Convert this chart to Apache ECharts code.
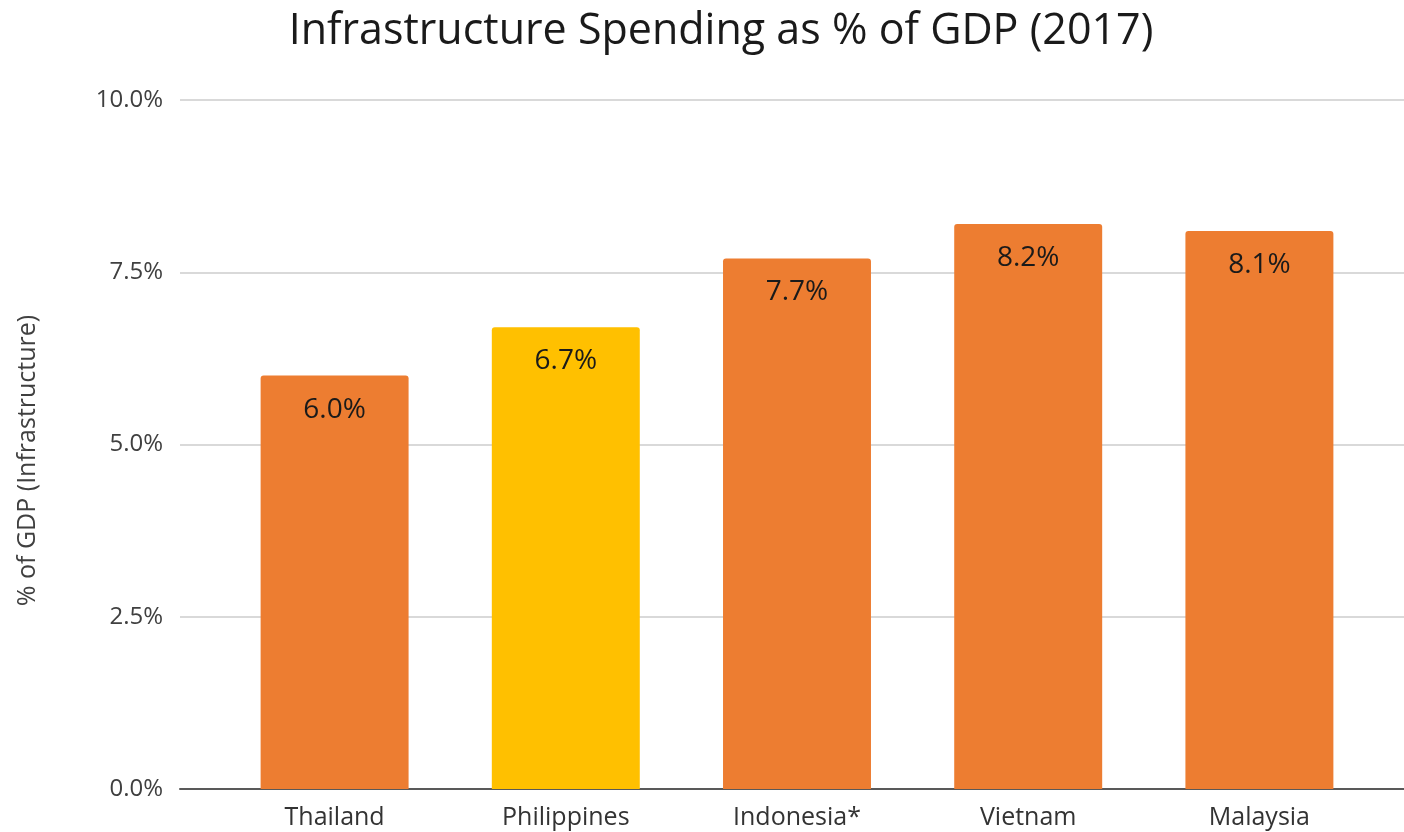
<!DOCTYPE html>
<html>
<head>
<meta charset="utf-8">
<script src="https://cdn.jsdelivr.net/npm/echarts@6/dist/echarts.min.js"></script>
<style>
  html, body { margin: 0; padding: 0; background: #ffffff; }
  #chart { width: 1404px; height: 832px; }
</style>
</head>
<body>
<div id="chart"></div>
<script>
// Infrastructure spending by country, share of GDP in 2017
const countries = ['Thailand', 'Philippines', 'Indonesia*', 'Vietnam', 'Malaysia'];
const spendingPct = [6.0, 6.7, 7.7, 8.2, 8.1];
const highlightCountry = 'Philippines';
const yTicks = [0, 2.5, 5, 7.5, 10];

const ORANGE = '#ED7D31';
const GOLD = '#FFC000';
const FONT = '"Open Sans", "Noto Sans", sans-serif';

const chart = echarts.init(document.getElementById('chart'), null, { renderer: 'canvas' });

const yMin = yTicks[0];
const yMax = yTicks[yTicks.length - 1];
const yStep = yTicks[1] - yTicks[0];

chart.setOption({
  animation: false,
  backgroundColor: '#ffffff',
  title: {
    text: 'Infrastructure Spending as % of GDP (2017)',
    left: 716,
    textAlign: 'center',
    top: 5,
    textStyle: { fontFamily: FONT, fontSize: 43, fontWeight: 'normal', color: '#1a1a1a' }
  },
  grid: [
    // background frame: gridlines, value labels and baseline
    { left: 180, right: 0, top: 100, bottom: 43 },
    // bars sit in a slightly inset category band
    { left: 219, right: 29, top: 100, bottom: 43 }
  ],
  xAxis: [
    {
      gridIndex: 0, type: 'category', data: countries,
      axisLine: { show: true, lineStyle: { color: '#595959', width: 2 } },
      axisTick: { show: false }, axisLabel: { show: false }, splitLine: { show: false }
    },
    {
      gridIndex: 1, type: 'category', data: countries,
      axisLine: { show: false }, axisTick: { show: false },
      axisLabel: { fontFamily: FONT, fontSize: 25, color: '#333333', margin: 16 }
    }
  ],
  yAxis: [
    {
      gridIndex: 0, type: 'value', min: yMin, max: yMax, interval: yStep,
      name: '% of GDP (Infrastructure)',
      nameLocation: 'middle', nameGap: 140, nameRotate: 90,
      nameTextStyle: { fontFamily: FONT, fontSize: 25, color: '#404040', padding: [0, 0, 0, -32] },
      axisLine: { show: false }, axisTick: { show: false },
      axisLabel: {
        fontFamily: FONT, fontSize: 24, color: '#404040', margin: 17,
        formatter: v => v.toFixed(1) + '%'
      },
      splitLine: { show: true, lineStyle: { color: '#d9d9d9', width: 2 } }
    },
    {
      gridIndex: 1, type: 'value', min: yMin, max: yMax, interval: yStep,
      show: false, splitLine: { show: false }
    }
  ],
  series: [
    {
      type: 'bar',
      xAxisIndex: 1, yAxisIndex: 1,
      barWidth: '64%',
      data: countries.map((c, i) => ({
        value: spendingPct[i],
        itemStyle: { color: c === highlightCountry ? GOLD : ORANGE, borderRadius: [3, 3, 0, 0] }
      })),
      label: {
        show: true,
        position: 'insideTop',
        distance: 20,
        fontFamily: FONT, fontSize: 28, color: '#1a1a1a',
        formatter: p => p.value.toFixed(1) + '%'
      }
    }
  ]
});
</script>
</body>
</html>
